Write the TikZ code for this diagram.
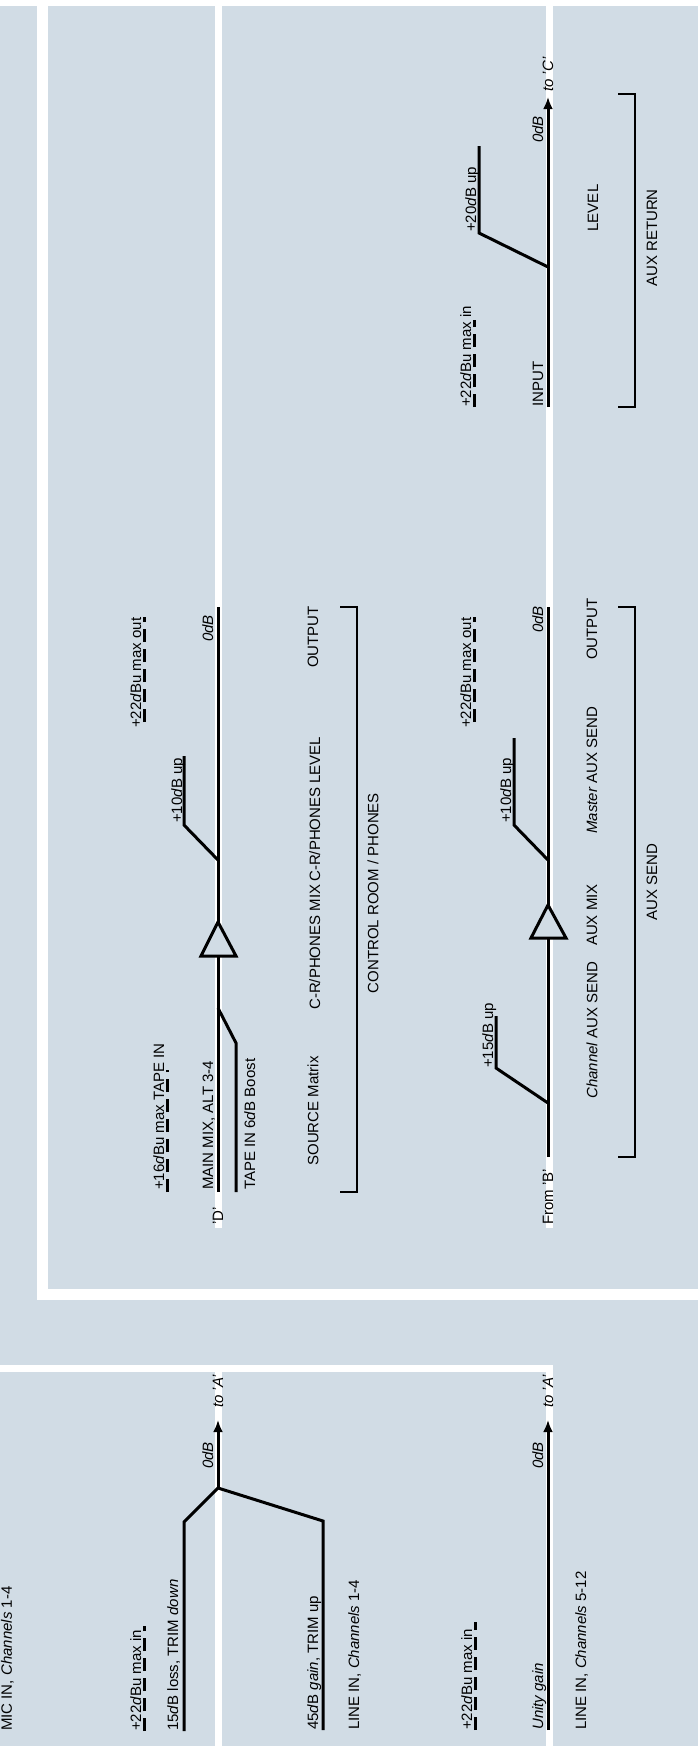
\documentclass[tikz,border=0pt]{standalone}
\usepackage{fontspec}
\setmainfont{Liberation Sans}
\usetikzlibrary{arrows.meta}
\definecolor{bg}{HTML}{D1DCE5}
\begin{document}
\begin{tikzpicture}[x=1pt,y=-1pt,
  lbl/.style={rotate=90,inner sep=0pt,font=\fontsize{15}{15}\selectfont},
  sig/.style={line width=3pt,line join=miter},
  brk/.style={line width=1.4pt},
  dsh/.style={line width=3pt,dash pattern=on 13pt off 7pt},
  arr/.style={sig,-{Latex[length=12pt,width=10pt]}},
  amp/.style={line width=3pt,fill=bg,line join=miter},
  gap/.style={fill=white,draw=none}]
\useasboundingbox (0,0) rectangle (700,1746);
\fill[bg] (0,0) rectangle (700,1746);
% white gaps
\fill[gap] (0,0) rectangle (700,6);
\fill[gap] (698,0) rectangle (700,1746);
\fill[gap] (37,0) rectangle (48,1300);
\fill[gap] (37,1289) rectangle (700,1300);
\fill[gap] (0,1365) rectangle (553,1372);
\fill[gap] (215,0) rectangle (222,1228);
\fill[gap] (546,0) rectangle (553,1228);
\fill[gap] (215,1365) rectangle (222,1746);
\fill[gap] (546,1365) rectangle (553,1746);

% ===== AUX RETURN =====
\coordinate (ri) at (548,407);
\coordinate (rt) at (548,97);
\coordinate (rj) at (548,267);
\coordinate (rb1) at (479,233);
\coordinate (rb2) at (479,146);
\draw[arr] (ri) -- (rt);
\draw[sig] (rj) -- (rb1) -- (rb2);
\coordinate (rd1) at (474,407);
\coordinate (rd2) at (474,320);
\draw[dsh] (rd1) -- (rd2);
\node[lbl,anchor=base west] (t1) at (471,407) {+22\textit{d}Bu max in};
\node[lbl,anchor=base west] (t2) at (543,407) {INPUT};
\node[lbl,anchor=base west] (t3) at (543,143) {\textit{0dB}};
\node[lbl,anchor=base west] (t4) at (553,92) {\textit{to 'C'}};
\node[lbl,anchor=base west] (t5) at (476,232) {+20\textit{d}B up};
\node[lbl] (t6) at (593,208) {LEVEL};
\node[lbl] (t7) at (652,238) {AUX RETURN};
\coordinate (rk1) at (618,94);
\coordinate (rk2) at (635,94);
\coordinate (rk3) at (635,407);
\coordinate (rk4) at (618,407);
\draw[brk] (rk1) -- (rk2) -- (rk3) -- (rk4);

% ===== AUX SEND =====
\coordinate (sa) at (548,1157);
\coordinate (sb) at (548,607);
\draw[sig] (sa) -- (sb);
\draw[sig] (548,860) coordinate (sj1) -- (514,825) coordinate (sj2) -- (514,738) coordinate (sj3);
\draw[sig] (548,1103) coordinate (sk1) -- (496,1068) coordinate (sk2) -- (496,1016) coordinate (sk3);
\draw[amp] (548,905) coordinate (sapx) -- (531,938) coordinate (sab1) -- (566,938) coordinate (sab2) -- cycle;
\draw[dsh] (474,722) coordinate (sd1) -- (474,617) coordinate (sd2);
\node[lbl,anchor=base west] (u1) at (471,728) {+22\textit{d}Bu max out};
\node[lbl,anchor=base west] (u2) at (543,633) {\textit{0dB}};
\node[lbl,anchor=base west] (u3) at (511,823) {+10\textit{d}B up};
\node[lbl,anchor=base west] (u4) at (493,1068) {+15\textit{d}B up};
\node[lbl,anchor=base west] (u5) at (553,1225) {From 'B'};
\node[lbl] (u6) at (592,629) {OUTPUT};
\node[lbl] (u7) at (592,770) {\textit{Master} AUX SEND};
\node[lbl] (u8) at (592,915) {AUX MIX};
\node[lbl] (u9) at (592,1030) {\textit{Channel} AUX SEND};
\node[lbl] (u10) at (652,882) {AUX SEND};
\draw[brk] (618,607) coordinate (sk4) -- (635,607) coordinate (sk5) -- (635,1157) coordinate (sk6) -- (618,1157) coordinate (sk7);

% ===== CONTROL ROOM =====
\coordinate (ca) at (218,1192);
\coordinate (cb) at (218,607);
\draw[sig] (ca) -- (cb);
\draw[sig] (218,1008) coordinate (ct1) -- (236,1043) coordinate (ct2) -- (236,1192) coordinate (ct3);
\draw[sig] (218,860) coordinate (cu1) -- (184,825) coordinate (cu2) -- (184,756) coordinate (cu3);
\draw[amp] (218,922) coordinate (capx) -- (201,956) coordinate (cab1) -- (236,956) coordinate (cab2) -- cycle;
\draw[dsh] (144,722) coordinate (cd1) -- (144,617) coordinate (cd2);
\draw[dsh] (167,1192) coordinate (cd3) -- (167,1070) coordinate (cd4);
\node[lbl,anchor=base west] (v1) at (141,728) {+22\textit{d}Bu max out};
\node[lbl,anchor=base west] (v2) at (182,823) {+10\textit{d}B up};
\node[lbl,anchor=base west] (v3) at (213,642) {\textit{0dB}};
\node[lbl,anchor=base west] (v4) at (164,1190) {+16\textit{d}Bu max TAPE IN};
\node[lbl,anchor=base west] (v5) at (213,1190) {MAIN MIX, ALT 3-4};
\node[lbl,anchor=base west] (v6) at (255,1190) {TAPE IN 6\textit{d}B Boost};
\node[lbl,anchor=base west] (v7) at (223,1225) {'D'};
\node[lbl] (v8) at (313,1111) {SOURCE Matrix};
\node[lbl,anchor=base west] (v9) at (320,1010) {C-R/PHONES MIX};
\node[lbl,anchor=base west] (v10) at (320,882) {C-R/PHONES LEVEL};
\node[lbl] (v11) at (313,637) {OUTPUT};
\node[lbl] (v12) at (373,893) {CONTROL ROOM / PHONES};
\draw[brk] (340,607) coordinate (ck1) -- (357,607) coordinate (ck2) -- (357,1192) coordinate (ck3) -- (340,1192) coordinate (ck4);

% ===== BOTTOM: MIC / LINE IN 1-4 =====
\coordinate (mj) at (218,1488);
\coordinate (mt) at (218,1420);
\draw[arr] (mj) -- (mt);
\draw[sig] (mj) -- (184,1522) coordinate (m1) -- (184,1731) coordinate (m2);
\draw[sig] (mj) -- (323,1521) coordinate (m3) -- (323,1730) coordinate (m4);
\draw[dsh] (144,1731) coordinate (md1) -- (144,1626) coordinate (md2);
\node[lbl,anchor=base west] (w1) at (213,1469) {\textit{0dB}};
\node[lbl,anchor=base west] (w2) at (223,1408) {\textit{to 'A'}};
\node[lbl,anchor=base west] (w3) at (12,1731) {MIC IN, \textit{Channels} 1-4};
\node[lbl,anchor=base west] (w4) at (141,1731) {+22\textit{d}Bu max in};
\node[lbl,anchor=base west] (w5) at (178,1731) {15\textit{d}B loss, TRIM \textit{down}};
\node[lbl,anchor=base west] (w6) at (318,1730) {45\textit{d}B \textit{gain}, TRIM up};
\node[lbl,anchor=base west] (w7) at (359,1730) {LINE IN, \textit{Channels} 1-4};

% ===== BOTTOM: LINE IN 5-12 =====
\coordinate (la) at (548,1730);
\coordinate (lt) at (548,1420);
\draw[arr] (la) -- (lt);
\draw[dsh] (475,1730) coordinate (ld1) -- (475,1622) coordinate (ld2);
\node[lbl,anchor=base west] (x1) at (543,1469) {\textit{0dB}};
\node[lbl,anchor=base west] (x2) at (553,1408) {\textit{to 'A'}};
\node[lbl,anchor=base west] (x3) at (472,1730) {+22\textit{d}Bu max in};
\node[lbl,anchor=base west] (x4) at (543,1730) {\textit{Unity gain}};
\node[lbl,anchor=base west] (x5) at (586,1730) {LINE IN, \textit{Channels} 5-12};
\end{tikzpicture}
\end{document}
